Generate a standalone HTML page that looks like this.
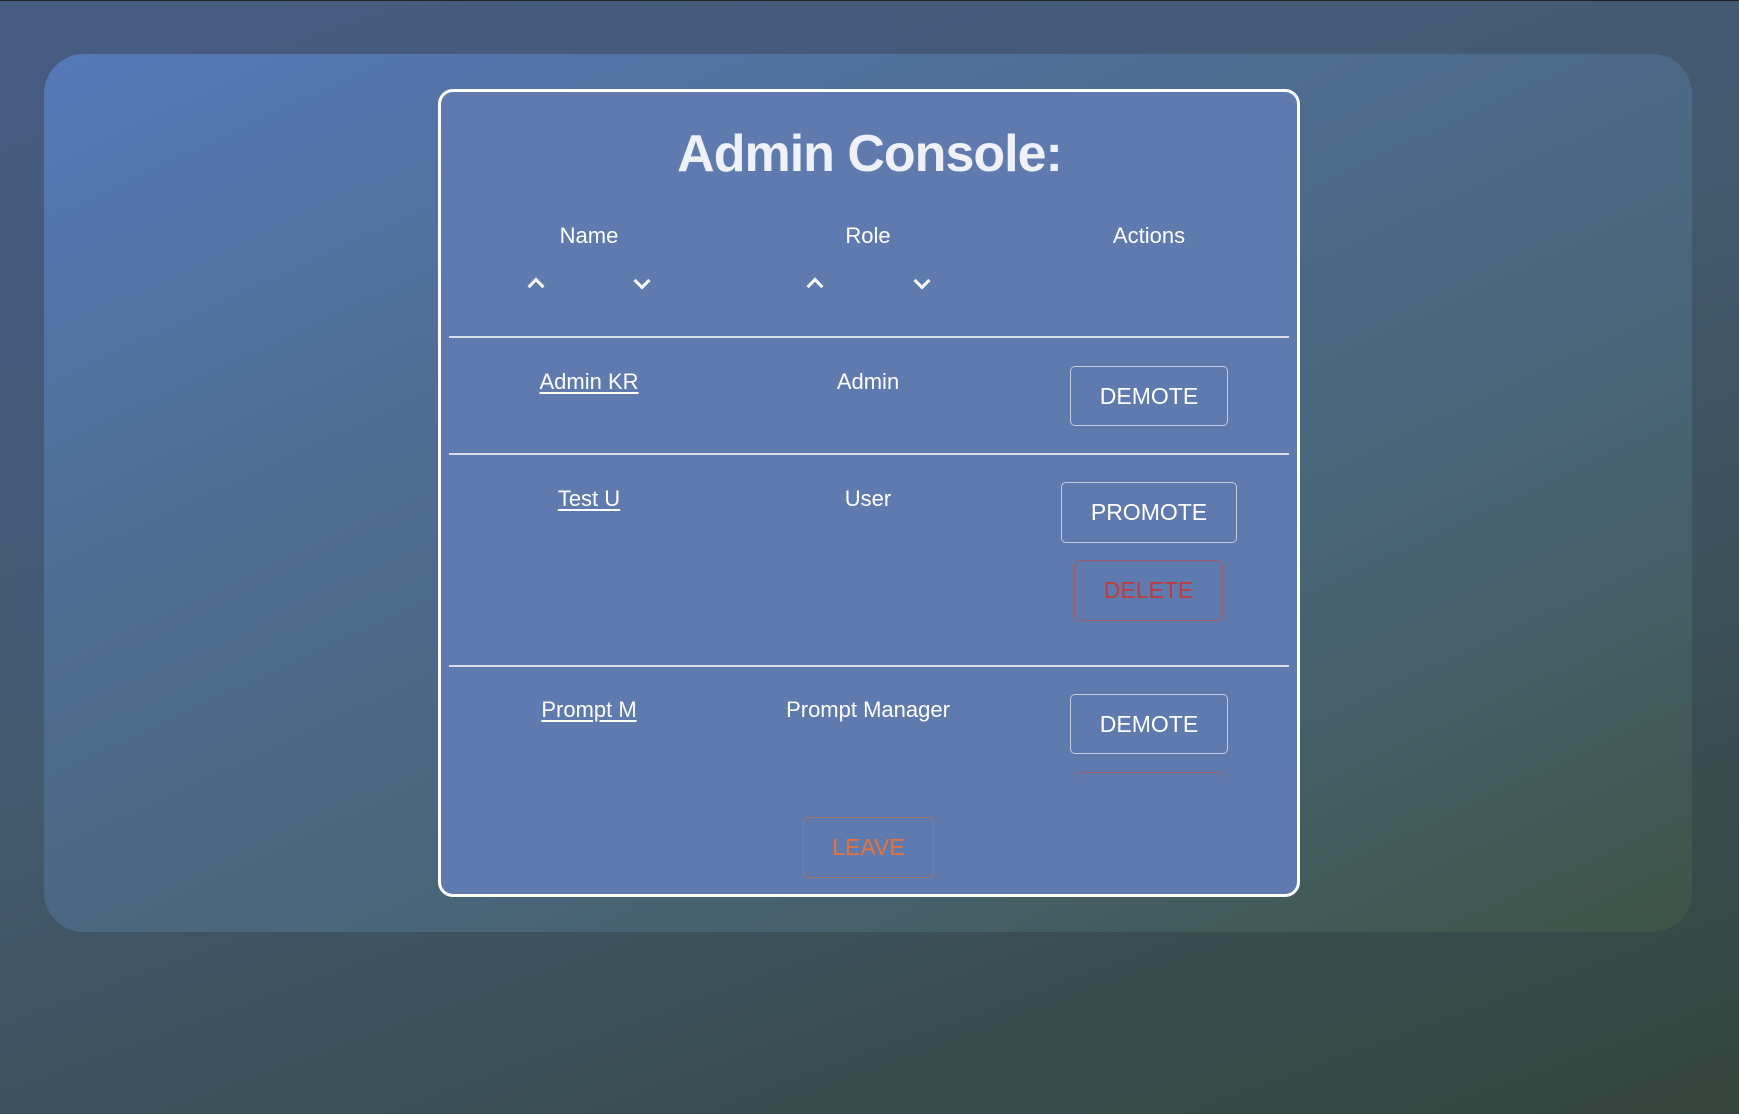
<!DOCTYPE html>
<html><head><meta charset="utf-8"><style>
*{margin:0;padding:0;box-sizing:border-box}
html,body{width:1739px;height:1114px;overflow:hidden}
body{background:linear-gradient(160deg,#465b82 0%,#435a70 45%,#33453c 100%);font-family:"Liberation Sans",sans-serif;color:#fff;position:relative}
.topline{position:absolute;left:0;top:0;width:1739px;height:1px;background:#222}
.outer{position:absolute;left:44px;top:54px;width:1648px;height:878px;border-radius:40px;background:linear-gradient(155deg,#5579b9 0%,#4e6c90 35%,#486578 65%,#3e5447 100%)}
.card{position:absolute;left:438px;top:89px;width:862px;height:808px;border:3px solid #fff;border-radius:15px;background:#5e7aaf;overflow:hidden}
.t{position:absolute;transform:translate(-50%,-50%);white-space:nowrap;font-size:22px}
h1{position:absolute;left:0;width:100%;top:124px;text-align:center;font-size:52px;font-weight:bold;color:#eef1f8;letter-spacing:-1px}
.line{position:absolute;left:449px;width:840px;height:2px;background:#d8dde8}
.btn{position:absolute;border:1.5px solid #c3cde0;border-radius:5px;display:flex;align-items:center;justify-content:center;font-size:23px}
u{text-underline-offset:3px}
.chev{position:absolute;width:12px;height:12px;border-left:3px solid #fff;border-top:3px solid #fff}
</style></head><body>
<div class="topline"></div>
<div class="outer"></div>
<div class="card"></div>
<h1>Admin Console:</h1>
<div class="t" style="left:589px;top:236px">Name</div>
<div class="t" style="left:868px;top:236px">Role</div>
<div class="t" style="left:1149px;top:236px">Actions</div>
<div class="chev" style="left:530px;top:280px;transform:rotate(45deg)"></div>
<div class="chev" style="left:636px;top:275px;transform:rotate(225deg)"></div>
<div class="chev" style="left:809px;top:280px;transform:rotate(45deg)"></div>
<div class="chev" style="left:916px;top:275px;transform:rotate(225deg)"></div>
<div class="line" style="top:336px"></div>
<div class="t" style="left:589px;top:382px"><u>Admin KR</u></div>
<div class="t" style="left:868px;top:382px">Admin</div>
<div class="btn" style="left:1070px;top:366px;width:158px;height:60px">DEMOTE</div>
<div class="line" style="top:453px"></div>
<div class="t" style="left:589px;top:499px"><u>Test U</u></div>
<div class="t" style="left:868px;top:499px">User</div>
<div class="btn" style="left:1061px;top:482px;width:176px;height:61px">PROMOTE</div>
<div class="btn" style="left:1074px;top:560px;width:149px;height:61px;border-color:#a05a6a;color:#c0393b">DELETE</div>
<div class="line" style="top:665px"></div>
<div class="t" style="left:589px;top:710px"><u>Prompt M</u></div>
<div class="t" style="left:868px;top:710px">Prompt Manager</div>
<div class="btn" style="left:1070px;top:694px;width:158px;height:60px">DEMOTE</div>
<div style="position:absolute;left:1074px;top:772px;width:149px;height:5px;border:1.5px solid #a05a6a;border-bottom:none;border-radius:5px 5px 0 0"></div>
<div class="btn" style="left:803px;top:817px;width:131px;height:61px;border-color:#a3766a;color:#e8733a">LEAVE</div>
</body></html>
